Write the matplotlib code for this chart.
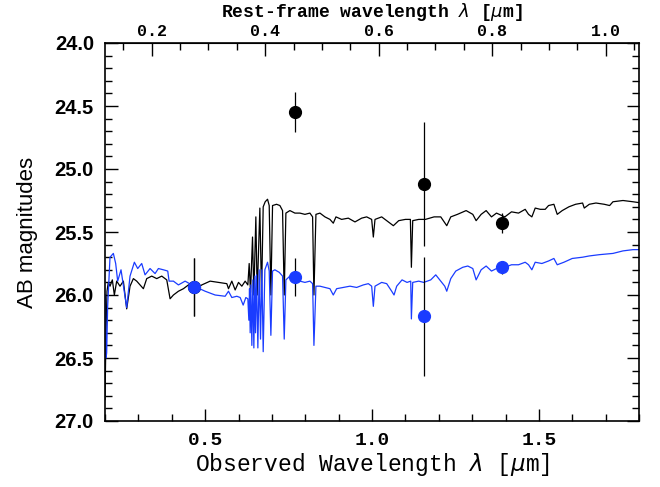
import numpy as np
import matplotlib
matplotlib.use('Agg')
import matplotlib.pyplot as plt
from matplotlib.ticker import MultipleLocator

# redshift used for the rest-frame axis
z = 0.7

# model spectra: observed wavelength (um) and AB mag
black_wave = [0.200, 0.203, 0.206, 0.210, 0.215, 0.222, 0.228, 0.235, 0.245, 0.255,
              0.265, 0.275, 0.285, 0.295, 0.305, 0.315, 0.325, 0.340, 0.355, 0.370,
              0.385, 0.395, 0.405, 0.420, 0.435, 0.450, 0.468, 0.490, 0.515, 0.540,
              0.565, 0.570, 0.580, 0.590, 0.600, 0.610, 0.620, 0.628, 0.632, 0.636,
              0.642, 0.646, 0.652, 0.656, 0.664, 0.669, 0.674, 0.680, 0.687, 0.692,
              0.697, 0.702, 0.714, 0.724, 0.732, 0.737, 0.742, 0.754, 0.769, 0.784,
              0.799, 0.814, 0.822, 0.826, 0.832, 0.844, 0.859, 0.874, 0.884, 0.892,
              0.909, 0.929, 0.949, 0.969, 0.984, 0.999, 1.004, 1.009, 1.029, 1.044,
              1.064, 1.080, 1.100, 1.115, 1.118, 1.122, 1.140, 1.160, 1.186, 1.206,
              1.224, 1.236, 1.256, 1.282, 1.302, 1.312, 1.327, 1.342, 1.358, 1.373,
              1.398, 1.418, 1.439, 1.459, 1.469, 1.479, 1.489, 1.504, 1.519, 1.529,
              1.545, 1.555, 1.570, 1.590, 1.610, 1.631, 1.636, 1.651, 1.671, 1.696,
              1.712, 1.722, 1.752, 1.782, 1.808]
black_mag = [26.83, 26.30, 25.97, 25.90, 25.93, 25.88, 26.00, 25.89, 25.93, 25.89,
             26.11, 25.93, 25.87, 25.89, 25.92, 25.95, 25.87, 25.85, 25.87, 25.85,
             25.88, 26.03, 26.00, 25.97, 25.95, 25.92, 25.96, 25.92, 25.89, 25.90,
             25.91, 25.95, 25.89, 25.96, 25.90, 25.93, 25.89, 25.92, 25.75, 25.98,
             25.54, 26.00, 25.38, 26.00, 25.31, 26.00, 25.30, 25.26, 25.24, 25.29,
             26.00, 25.29, 25.28, 25.29, 25.33, 26.00, 25.35, 25.33, 25.35, 25.35,
             25.36, 25.35, 25.38, 26.00, 25.36, 25.35, 25.38, 25.40, 25.43, 25.38,
             25.40, 25.39, 25.42, 25.39, 25.38, 25.40, 25.54, 25.40, 25.38, 25.41,
             25.45, 25.41, 25.40, 25.40, 25.78, 25.41, 25.40, 25.40, 25.38, 25.38,
             25.45, 25.38, 25.36, 25.33, 25.36, 25.41, 25.36, 25.33, 25.38, 25.35,
             25.38, 25.34, 25.35, 25.32, 25.36, 25.38, 25.31, 25.32, 25.32, 25.29,
             25.28, 25.36, 25.33, 25.30, 25.28, 25.27, 25.31, 25.28, 25.27, 25.28,
             25.29, 25.26, 25.25, 25.26, 25.27]

blue_wave = [0.201, 0.203, 0.205, 0.208, 0.215, 0.225, 0.232, 0.238, 0.248, 0.260,
             0.265, 0.275, 0.288, 0.298, 0.310, 0.320, 0.335, 0.350, 0.360, 0.375,
             0.388, 0.392, 0.405, 0.420, 0.440, 0.467, 0.500, 0.530, 0.560, 0.570,
             0.580, 0.595, 0.605, 0.614, 0.622, 0.628, 0.631, 0.633, 0.635, 0.637,
             0.640, 0.643, 0.646, 0.649, 0.651, 0.654, 0.658, 0.662, 0.666, 0.670,
             0.674, 0.679, 0.687, 0.692, 0.697, 0.702, 0.709, 0.722, 0.732, 0.737,
             0.742, 0.754, 0.769, 0.784, 0.799, 0.814, 0.822, 0.826, 0.832, 0.844,
             0.859, 0.874, 0.884, 0.894, 0.914, 0.934, 0.954, 0.974, 0.989, 0.999,
             1.004, 1.009, 1.029, 1.044, 1.059, 1.066, 1.074, 1.090, 1.105, 1.116,
             1.118, 1.122, 1.140, 1.155, 1.176, 1.191, 1.206, 1.218, 1.224, 1.236,
             1.251, 1.272, 1.287, 1.302, 1.312, 1.327, 1.342, 1.358, 1.373, 1.398,
             1.418, 1.439, 1.459, 1.469, 1.479, 1.489, 1.509, 1.529, 1.545, 1.555,
             1.575, 1.600, 1.631, 1.651, 1.681, 1.722, 1.752, 1.782, 1.808]
blue_mag = [26.00, 26.50, 26.46, 26.09, 25.70, 25.67, 25.75, 25.89, 25.80, 26.01,
            26.10, 25.85, 25.74, 25.79, 25.75, 25.84, 25.79, 25.83, 25.79, 25.80,
            25.81, 25.89, 25.89, 25.92, 25.89, 25.93, 25.97, 26.00, 26.01, 25.97,
            26.02, 26.01, 26.02, 26.08, 26.02, 26.03, 26.20, 25.95, 26.30, 25.92,
            26.40, 25.88, 26.42, 25.85, 26.30, 25.84, 26.42, 25.80, 26.35, 25.80,
            26.45, 25.80, 25.74, 25.81, 26.32, 25.81, 25.80, 25.82, 25.85, 26.35,
            25.88, 25.85, 25.87, 25.89, 25.90, 25.89, 25.91, 26.40, 25.93, 25.93,
            25.94, 25.95, 26.00, 25.95, 25.94, 25.93, 25.94, 25.92, 25.91, 25.93,
            26.09, 25.93, 25.90, 25.91, 25.97, 26.00, 25.93, 25.88, 25.90, 25.89,
            26.19, 25.90, 25.89, 25.90, 25.88, 25.84, 25.89, 25.93, 25.97, 25.87,
            25.81, 25.78, 25.77, 25.79, 25.88, 25.80, 25.77, 25.81, 25.79, 25.78,
            25.76, 25.76, 25.74, 25.76, 25.80, 25.74, 25.75, 25.73, 25.71, 25.76,
            25.74, 25.71, 25.70, 25.69, 25.68, 25.67, 25.65, 25.64, 25.64]

# photometry
phot_wave = [0.466, 0.769, 1.155, 1.390]
black_phot = [25.94, 24.55, 25.12, 25.43]
black_err = [0.23, 0.16, 0.49, 0.08]
blue_phot = [25.94, 25.86, 26.17, 25.78]
blue_err = [0.23, 0.15, 0.47, 0.05]

rest_ticks = [0.2, 0.4, 0.6, 0.8, 1.0]

blue = '#1a3cff'
label_font = 'Liberation Mono'
tick_font = 'Liberation Sans'

fig = plt.figure(figsize=(6.6, 4.87), dpi=100)
ax = fig.add_axes([105/660, 66/487, 534/660, 378/487])

ax.plot(black_wave, black_mag, color='black', lw=0.9)
ax.plot(blue_wave, blue_mag, color=blue, lw=0.9)

ax.errorbar(phot_wave, black_phot, yerr=black_err, fmt='o', color='black',
            ms=8.5, elinewidth=0.9, capsize=0, zorder=5)
ax.errorbar(phot_wave, blue_phot, yerr=blue_err, fmt='o', color=blue, ecolor='black',
            ms=8.5, elinewidth=0.9, capsize=0, zorder=6)

ax.set_xlim(0.2, 1.8)
ax.set_ylim(27.0, 24.0)

ax.xaxis.set_major_locator(MultipleLocator(0.5))
ax.xaxis.set_minor_locator(MultipleLocator(0.1))
ax.yaxis.set_major_locator(MultipleLocator(0.5))
ax.yaxis.set_minor_locator(MultipleLocator(0.1))
ax.tick_params(which='both', direction='in', right=True, top=False, width=1.0)
ax.tick_params(which='major', length=9)
ax.tick_params(which='minor', length=5)
ax.tick_params(axis='x', pad=8)
ax.tick_params(axis='y', pad=8)
ax.xaxis.set_major_formatter(plt.FuncFormatter(lambda v, p: f'{v:.1f}'))
ax.yaxis.set_major_formatter(plt.FuncFormatter(lambda v, p: f'{v:.1f}'))
for lab in ax.get_xticklabels():
    lab.set_fontfamily(label_font)
    lab.set_fontsize(14)
    lab.set_fontweight('bold')
for lab in ax.get_yticklabels():
    lab.set_fontfamily(tick_font)
    lab.set_fontweight('bold')
    lab.set_fontsize(14.5)
    lab.set_verticalalignment('center_baseline')
for s in ax.spines.values():
    s.set_linewidth(1.2)

ax.set_xlabel(r'Observed Wavelength $\lambda$ [$\mu$m]', fontfamily=label_font,
              fontsize=16.5, labelpad=1)
ax.set_ylabel('AB magnitudes', fontfamily=tick_font, fontsize=16, labelpad=12)

# rest-frame axis on top
top = ax.secondary_xaxis('top', functions=(lambda x: x / (1 + z), lambda x: x * (1 + z)))
top.set_xticks(rest_ticks)
top.xaxis.set_minor_locator(MultipleLocator(0.05))
top.tick_params(which='both', direction='in', width=1.0, pad=3)
top.tick_params(which='major', length=9)
top.tick_params(which='minor', length=5)
top.xaxis.set_major_formatter(plt.FuncFormatter(lambda v, p: f'{v:.1f}'))
for lab in top.get_xticklabels():
    lab.set_fontfamily(label_font)
    lab.set_fontsize(12)
    lab.set_fontweight('bold')
top.set_xlabel(r'Rest-frame wavelength $\lambda$ [$\mu$m]', fontfamily=label_font,
               fontsize=13, fontweight='bold', labelpad=5)

fig.savefig('out.png', dpi=100)
